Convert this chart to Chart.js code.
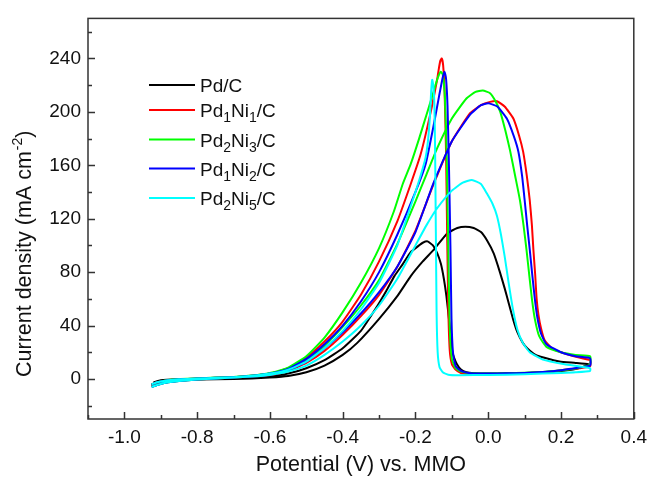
<!DOCTYPE html>
<html>
<head>
<meta charset="utf-8">
<script src="https://cdn.jsdelivr.net/npm/chart.js@4.4.1/dist/chart.umd.min.js"></script>
<style>
  html, body { margin: 0; padding: 0; background: #fff; }
</style>
</head>
<body>
<canvas id="myChart" width="654" height="481"></canvas>
<script>
// cyclic voltammograms, potential in V vs. MMO, current density in mA cm-2
// each loop: anodic sweep -0.93 -> 0.28 V, then the return sweep back
var pdcE = [-0.925, -0.915, -0.9, -0.85, -0.8, -0.7, -0.65, -0.6, -0.55, -0.5, -0.45, -0.4, -0.36, -0.3, -0.25, -0.213, -0.18, -0.149, -0.113, -0.085, -0.063, -0.04, -0.02, -0.004, 0.015, 0.032, 0.045, 0.055, 0.068, 0.08, 0.095, 0.107, 0.13, 0.152, 0.196, 0.24, 0.275,
  0.27, 0.24, 0.2, 0.15, 0.1, 0.05, 0.0, -0.04, -0.06, -0.075, -0.086, -0.094, -0.099, -0.104, -0.108, -0.115, -0.122, -0.13, -0.14, -0.152, -0.167, -0.18, -0.19, -0.213, -0.235, -0.258, -0.28, -0.304, -0.35, -0.4, -0.45, -0.5, -0.55, -0.6, -0.65, -0.7, -0.8, -0.85, -0.9, -0.92];
var pdcJ = [-5, -3, -1.8, -1, -0.5, 0, 0.3, 1, 2.2, 5, 10, 18, 27, 45, 62, 77, 88, 97, 109, 113, 114, 113, 110, 104, 94, 80, 68, 58, 45, 35, 27, 23, 18, 16, 13, 12, 11,
  10, 7.5, 6, 5, 4.5, 4.2, 4, 4.3, 5, 7, 11, 16, 21, 35, 45, 62, 75, 86, 94, 100, 103, 102, 100, 95, 86, 77, 66, 55, 36, 23, 14, 8, 4, 2, 1, 0.5, 0, -0.3, -1, -2.5];

var pd1ni1E = [-0.925, -0.91, -0.88, -0.85, -0.8, -0.75, -0.7, -0.65, -0.6, -0.55, -0.5, -0.45, -0.4, -0.35, -0.3, -0.25, -0.2, -0.15, -0.1, -0.05, -0.02, 0.005, 0.024, 0.045, 0.069, 0.085, 0.096, 0.106, 0.114, 0.12, 0.124, 0.129, 0.133, 0.138, 0.145, 0.155, 0.175, 0.2, 0.25, 0.28,
  0.28, 0.25, 0.2, 0.15, 0.1, 0.05, 0, -0.05, -0.075, -0.09, -0.1, -0.106, -0.11, -0.113, -0.116, -0.12, -0.124, -0.128, -0.132, -0.136, -0.14, -0.158, -0.186, -0.213, -0.25, -0.3, -0.35, -0.4, -0.45, -0.5, -0.55, -0.6, -0.65, -0.7, -0.75, -0.8, -0.85, -0.88, -0.91, -0.925];
var pd1ni1J = [-5.5, -4, -2.3, -1.3, -0.5, 0.3, 1, 1.8, 3, 6, 12, 21, 33, 47, 63, 84, 111, 146, 178, 199, 205, 207.5, 208, 204, 195, 182, 170, 152, 134, 115, 97, 78, 60, 48, 38, 29, 23, 20, 16, 14,
  9.5, 8, 6.5, 5, 4.2, 3.8, 3.5, 3.6, 4.5, 7, 11, 22, 55, 110, 170, 215, 235, 240, 238, 232, 225, 200, 168, 146, 118, 88, 63, 43, 28, 16, 8, 4, 2.3, 1.3, 0.8, 0.3, -0.2, -1, -2.5, -4];

var pd2ni3E = [-0.925, -0.91, -0.88, -0.85, -0.8, -0.75, -0.7, -0.65, -0.6, -0.55, -0.5, -0.45, -0.4, -0.35, -0.3, -0.25, -0.2, -0.17, -0.14, -0.1, -0.06, -0.035, -0.015, 0.005, 0.02, 0.033, 0.047, 0.06, 0.074, 0.087, 0.097, 0.105, 0.113, 0.12, 0.128, 0.14, 0.16, 0.2, 0.24, 0.28,
  0.28, 0.26, 0.22, 0.15, 0.1, 0.05, 0, -0.05, -0.075, -0.09, -0.1, -0.106, -0.11, -0.114, -0.119, -0.125, -0.131, -0.138, -0.145, -0.165, -0.19, -0.213, -0.235, -0.26, -0.3, -0.35, -0.4, -0.45, -0.5, -0.55, -0.6, -0.65, -0.7, -0.75, -0.8, -0.85, -0.88, -0.91, -0.925];
var pd2ni3J = [-6, -4.5, -2.5, -1.5, -0.5, 0.3, 1, 2, 3.5, 7, 14, 25, 39, 55, 74, 101, 133, 153, 173, 195, 210, 215, 216, 214, 208, 200, 186, 171, 152, 134, 115, 97, 77, 60, 45, 32, 24, 20, 18, 17,
  11, 9, 7, 5.2, 4.6, 4.3, 4, 4.3, 5.5, 8, 15, 40, 100, 165, 210, 228, 230, 226, 220, 202, 180, 161, 146, 125, 98, 72, 50, 31, 17, 8.5, 4.5, 2.5, 1.5, 1, 0.5, 0, -0.8, -2.5, -4];

var pd1ni2E = [-0.925, -0.91, -0.88, -0.85, -0.8, -0.75, -0.7, -0.65, -0.6, -0.55, -0.5, -0.45, -0.4, -0.35, -0.3, -0.25, -0.2, -0.15, -0.1, -0.05, -0.02, 0, 0.025, 0.051, 0.07, 0.083, 0.093, 0.1, 0.107, 0.114, 0.121, 0.128, 0.135, 0.145, 0.16, 0.2, 0.24, 0.28,
  0.28, 0.25, 0.2, 0.15, 0.1, 0.05, 0, -0.05, -0.07, -0.082, -0.09, -0.097, -0.101, -0.104, -0.108, -0.112, -0.116, -0.12, -0.125, -0.135, -0.15, -0.172, -0.2, -0.25, -0.3, -0.35, -0.4, -0.45, -0.5, -0.55, -0.6, -0.65, -0.7, -0.75, -0.8, -0.85, -0.88, -0.91, -0.925];
var pd1ni2J = [-6, -4.5, -2.5, -1.5, -0.5, 0.3, 1, 1.9, 3.2, 6.5, 13, 23, 35, 49, 65, 84, 110, 147, 178, 198, 205, 206.5, 204, 195, 182, 170, 152, 134, 115, 97, 78, 60, 46, 34, 26, 20, 17, 15.5,
  10, 8.5, 6.5, 5.2, 4.5, 4.2, 4, 4.3, 5.5, 7.5, 10, 20, 45, 100, 160, 205, 225, 230, 226, 212, 190, 161, 140, 108, 80, 58, 40, 26, 15, 7.5, 4, 2.3, 1.3, 0.8, 0.3, -0.2, -1, -2.5, -4];

var pd2ni5E = [-0.925, -0.91, -0.88, -0.85, -0.8, -0.75, -0.7, -0.65, -0.6, -0.55, -0.5, -0.45, -0.4, -0.35, -0.3, -0.25, -0.2, -0.17, -0.14, -0.1, -0.07, -0.045, -0.02, -0.004, 0.012, 0.024, 0.035, 0.045, 0.056, 0.068, 0.08, 0.095, 0.114, 0.15, 0.21, 0.28,
  0.28, 0.24, 0.2, 0.1, 0, -0.08, -0.11, -0.125, -0.134, -0.139, -0.142, -0.144, -0.146, -0.148, -0.151, -0.154, -0.157, -0.16, -0.165, -0.172, -0.185, -0.2, -0.25, -0.3, -0.35, -0.4, -0.45, -0.5, -0.55, -0.6, -0.65, -0.7, -0.75, -0.8, -0.85, -0.88, -0.91, -0.925];
var pd2ni5J = [-6, -4.5, -2.5, -1.5, -0.5, 0.3, 1, 1.8, 3, 5.5, 10, 18, 28, 40, 55, 75, 100, 115, 128, 141, 147, 149, 146, 139, 131, 122, 108, 92, 72, 52, 37, 27, 20, 14.5, 11, 8,
  6, 5, 4.5, 3.5, 3, 2.8, 3.2, 5, 9, 20, 50, 110, 170, 205, 220, 224, 215, 198, 180, 166, 153, 140, 100, 72, 52, 36, 23, 13, 7, 4, 2.3, 1.3, 0.8, 0.3, -0.2, -1, -2.5, -4];

var seriesNames = ['Pd/C', 'Pd₁Ni₁/C', 'Pd₂Ni₃/C', 'Pd₁Ni₂/C', 'Pd₂Ni₅/C'];
var seriesColors = ['#000000', '#ff0000', '#00ff00', '#0000ff', '#00ffff'];
var seriesE = [pdcE, pd1ni1E, pd2ni3E, pd1ni2E, pd2ni5E];
var seriesJ = [pdcJ, pd1ni1J, pd2ni3J, pd1ni2J, pd2ni5J];

var xTicks = [-1.0, -0.8, -0.6, -0.4, -0.2, 0.0, 0.2, 0.4];
var yTicks = [0, 40, 80, 120, 160, 200, 240];

var fontFamily = '"Liberation Sans", Arial, sans-serif';
var textColor = '#111';

function toPoints(E, J) {
  return E.map(function (e, i) { return {x: e, y: J[i]}; });
}

var datasets = seriesNames.map(function (name, i) {
  return {
    label: name,
    data: toPoints(seriesE[i], seriesJ[i]),
    borderColor: seriesColors[i],
    backgroundColor: seriesColors[i],
    borderWidth: 2,
    showLine: true,
    pointRadius: 0,
    tension: 0.15,
    order: seriesNames.length - i
  };
});

// box round the plot, inward ticks, y title with superscript, legend inside the plot
var framePlugin = {
  id: 'frame',
  afterDatasetsDraw: function (chart) {
    var ctx = chart.ctx, a = chart.chartArea;
    var xs = chart.scales.x, ys = chart.scales.y;
    ctx.save();
    ctx.strokeStyle = '#333';
    ctx.lineWidth = 1.5;
    ctx.strokeRect(a.left, a.top, a.right - a.left, a.bottom - a.top);

    ctx.beginPath();
    for (var i = 0; i <= 15; i++) {
      var v = Math.round((-1.1 + 0.1 * i) * 10) / 10;
      var major = xTicks.indexOf(v) >= 0;
      var px = Math.round(xs.getPixelForValue(v)) + 0.5;
      ctx.moveTo(px, a.bottom);
      ctx.lineTo(px, a.bottom - (major ? 7 : 4));
    }
    for (var k = -20; k <= 260; k += 20) {
      var py = Math.round(ys.getPixelForValue(k)) + 0.5;
      ctx.moveTo(a.left, py);
      ctx.lineTo(a.left + (yTicks.indexOf(k) >= 0 ? 7 : 4), py);
    }
    ctx.stroke();

    // y axis title, read bottom to top
    ctx.fillStyle = textColor;
    ctx.save();
    ctx.translate(25, 377);
    ctx.rotate(-Math.PI / 2);
    ctx.textAlign = 'left';
    ctx.textBaseline = 'middle';
    var tx = 0;
    ctx.font = '21.5px ' + fontFamily;
    ctx.fillText('Current density (mA cm', tx, 0);
    tx += ctx.measureText('Current density (mA cm').width;
    ctx.font = '14px ' + fontFamily;
    ctx.fillText('-2', tx + 1, -7);
    tx += ctx.measureText('-2').width + 1;
    ctx.font = '21.5px ' + fontFamily;
    ctx.fillText(')', tx, 0);
    ctx.restore();

    var rowY = [85, 110, 139.5, 168.5, 198];
    var subs = '₀₁₂₃₄₅₆₇₈₉';
    ctx.textBaseline = 'alphabetic';
    ctx.textAlign = 'left';
    chart.data.datasets.forEach(function (ds, i) {
      var y = rowY[i];
      ctx.strokeStyle = ds.borderColor;
      ctx.lineWidth = 2;
      ctx.beginPath();
      ctx.moveTo(a.left + 61, y);
      ctx.lineTo(a.left + 107, y);
      ctx.stroke();
      var x = a.left + 112;
      for (var ch of ds.label) {
        var d = subs.indexOf(ch);
        if (d >= 0) {
          ctx.font = '14px ' + fontFamily;
          ctx.fillText(String(d), x, y + 12);
          x += ctx.measureText(String(d)).width;
        } else {
          ctx.font = '19px ' + fontFamily;
          ctx.fillText(ch, x, y + 7);
          x += ctx.measureText(ch).width;
        }
      }
    });
    ctx.restore();
  }
};

var ctx = document.getElementById('myChart').getContext('2d');
var myChart = new Chart(ctx, {
  type: 'scatter',
  data: { datasets: datasets },
  options: {
    responsive: false,
    animation: false,
    devicePixelRatio: 1,
    layout: { padding: { top: 14, right: 16, left: 0, bottom: 0 } },
    scales: {
      x: {
        type: 'linear',
        min: -1.1,
        max: 0.4,
        afterBuildTicks: function (s) { s.ticks = xTicks.map(function (v) { return {value: v}; }); },
        afterFit: function (s) { s.height = 62; },
        grid: { display: false, drawTicks: false },
        border: { display: false },
        ticks: {
          padding: 7,
          autoSkip: false,
          maxRotation: 0,
          color: textColor,
          font: { size: 19, family: fontFamily },
          callback: function (v) { return v.toFixed(1); }
        },
        title: {
          display: true,
          text: 'Potential (V) vs. MMO',
          color: textColor,
          font: { size: 21.5, family: fontFamily },
          padding: { top: 0, bottom: 3 }
        }
      },
      y: {
        type: 'linear',
        min: -30,
        max: 270,
        afterBuildTicks: function (s) { s.ticks = yTicks.map(function (v) { return {value: v}; }); },
        afterFit: function (s) { s.width = 88; },
        grid: { display: false, drawTicks: false },
        border: { display: false },
        ticks: {
          padding: 7,
          color: textColor,
          font: { size: 19, family: fontFamily }
        }
      }
    },
    plugins: {
      legend: { display: false },
      tooltip: { enabled: false }
    }
  },
  plugins: [framePlugin]
});
</script>
</body>
</html>
